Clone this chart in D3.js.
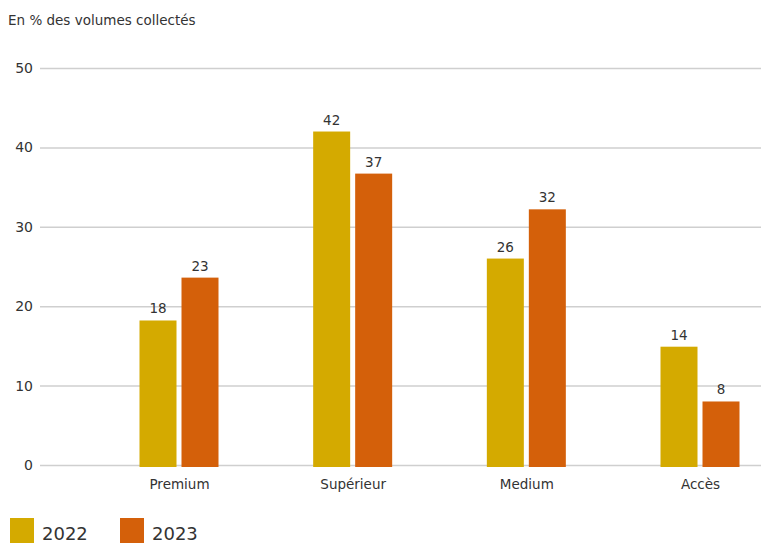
<!DOCTYPE html>
<html><head><meta charset="utf-8">
<script src="https://cdn.jsdelivr.net/npm/d3@7"></script>
<style>body{margin:0;background:#fff;} svg{display:block;font-family:"DejaVu Sans",sans-serif;}</style>
</head><body>
<svg id="c" width="761" height="543"></svg>
<script>
const categories = ["Premium", "Supérieur", "Medium", "Accès"];
const seriesNames = ["2022", "2023"];
const values2022 = [18.2, 42, 26, 14.9];
const values2023 = [23.6, 36.7, 32.2, 8];
const labels2022 = ["18", "42", "26", "14"];
const labels2023 = ["23", "37", "32", "8"];
const yTicks = [0, 10, 20, 30, 40, 50];
const colors = ["#d4aa00", "#d4600a"];
const title = "En % des volumes collectés";
const FONT = "DejaVu Sans, sans-serif";

const svg = d3.select("#c");
const y = d3.scaleLinear().domain([0, 50]).range([465, 68]);
const x = d3.scalePoint().domain(categories).range([179, 700]);
const barW = 37, gap = 5;

svg.append("text").attr("x", 8).attr("y", 25).attr("font-size", 13.5).attr("fill", "#333").text(title);

const yAxis = svg.append("g").attr("transform", "translate(40,0)")
  .call(d3.axisLeft(y).tickValues(yTicks).tickSize(-721).tickFormat(d3.format("d")));
yAxis.select(".domain").remove();
yAxis.selectAll(".tick line").attr("stroke", "#cfcfcf").attr("stroke-width", 1.5);
yAxis.selectAll(".tick text").attr("x", -7).attr("font-size", 14).attr("fill", "#333")
  .attr("font-family", FONT);

const series = [
  {vals: values2022, labels: labels2022, off: -gap/2 - barW, color: colors[0]},
  {vals: values2023, labels: labels2023, off: gap/2, color: colors[1]}
];
series.forEach(s => {
  svg.append("g").selectAll("rect").data(categories).join("rect")
    .attr("x", (d) => x(d) + s.off)
    .attr("y", (d, i) => y(s.vals[i]))
    .attr("width", barW)
    .attr("height", (d, i) => y(0) - y(s.vals[i]) + 2)
    .attr("fill", s.color);
  svg.append("g").selectAll("text").data(categories).join("text")
    .attr("x", (d) => x(d) + s.off + barW / 2)
    .attr("y", (d, i) => y(s.vals[i]) - 7)
    .attr("text-anchor", "middle").attr("font-size", 13.5).attr("fill", "#333")
    .text((d, i) => s.labels[i]);
});

const xAxis = svg.append("g").attr("transform", "translate(0,467)")
  .call(d3.axisBottom(x).tickSize(0).tickPadding(12));
xAxis.select(".domain").remove();
xAxis.selectAll("text").attr("font-size", 13.5).attr("fill", "#333")
  .attr("font-family", FONT);

const legend = svg.append("g");
const lx = [10, 120];
seriesNames.forEach((n, i) => {
  legend.append("rect").attr("x", lx[i]).attr("y", 518).attr("width", 24).attr("height", 25).attr("fill", colors[i]);
  legend.append("text").attr("x", lx[i] + 32).attr("y", 540).attr("font-size", 18).attr("fill", "#333").text(n);
});
</script>
</body></html>
